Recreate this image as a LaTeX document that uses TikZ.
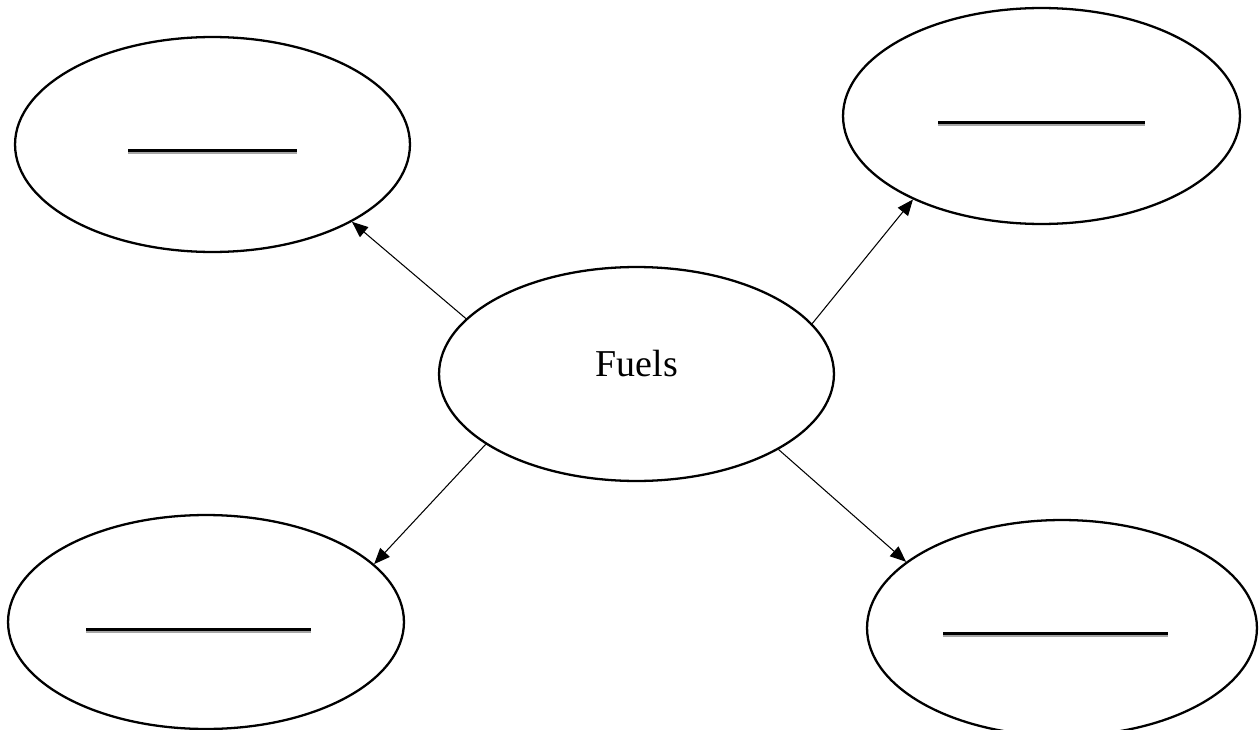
\documentclass[tikz,border=0pt]{standalone}
\usepackage{fontspec}
\setmainfont{Liberation Serif}
\usetikzlibrary{shapes.geometric,arrows.meta}
\tikzset{
  bubble/.style={draw,ellipse,line width=1.3pt,inner sep=0pt},
  link/.style={line width=0.6pt,-{Triangle[length=0.32cm,width=0.26cm]}},
  blanktop/.style={line width=0.05cm,black},
  blankbot/.style={line width=0.035cm,black!35}
}
\newcommand{\blankline}[3]{%
  \draw[blanktop] (#1,#3) -- (#2,#3);
  \draw[blankbot] (#1,#3+2.8) -- (#2,#3+2.8);}
\begin{document}
\begin{tikzpicture}[x=0.02cm,y=-0.02cm]
  \useasboundingbox (0,0) rectangle (1259,730);
  % the hub
  \node[bubble,minimum width=7.9cm,minimum height=4.28cm] (fuels) at (636.5,374) {};
  \node[font=\fontsize{21.6pt}{26pt}\selectfont] (fuelstext) at (637,364) {Fuels};
  % the four blanks
  \node[bubble,minimum width=7.9cm,minimum height=4.3cm] (tl) at (212.5,144.5) {};
  \node[bubble,minimum width=7.94cm,minimum height=4.32cm] (tr) at (1041.5,116) {};
  \node[bubble,minimum width=7.92cm,minimum height=4.28cm] (bl) at (206,622) {};
  \node[bubble,minimum width=7.8cm,minimum height=4.32cm] (br) at (1062,628) {};
  \blankline{128}{297}{150.5}
  \blankline{938}{1145}{122.5}
  \blankline{86}{311}{629.5}
  \blankline{943}{1168}{633.5}
  % arrows
  \draw[link] (fuels.162) -- (tl.-29);
  \draw[link] (fuels.16.5) -- (tr.213.7);
  \draw[link] (fuels.205.7) -- (bl.19.2);
  \draw[link] (fuels.-28.8) -- (br.157.2);
\end{tikzpicture}
\end{document}
